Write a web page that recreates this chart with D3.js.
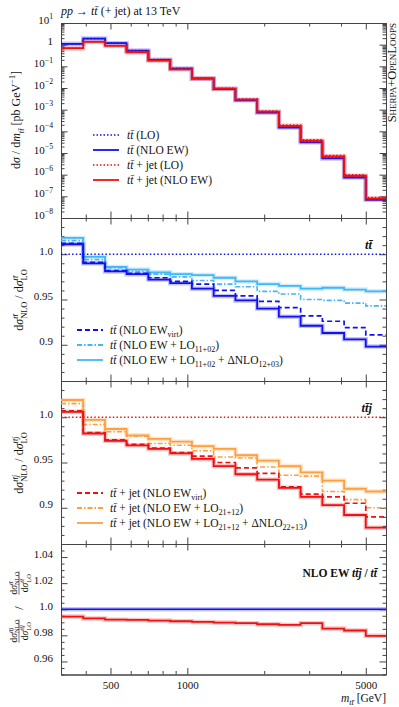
<!DOCTYPE html>
<html>
<head>
<meta charset="utf-8">
<script src="https://cdn.jsdelivr.net/npm/d3@7"></script>
<style>
  body { margin: 0; background: #fff; }
  svg { display: block; }
  text { font-family: "Liberation Serif", serif; fill: #111; }
</style>
</head>
<body>
<div id="chart"></div>
<script>
// m_tt bin edges [GeV]
const massEdges = [320, 391, 476, 578, 704, 857, 1042, 1268, 1543, 1877, 2283, 2778, 3380, 4112, 5000, 6000]

// dsigma/dm [pb/GeV]
const ttLO    = [1.078, 1.94, 1.193, 0.548, 0.206, 0.0816, 0.0281, 0.00933, 0.00285, 7.77e-4, 1.61e-4, 3.37e-5, 6.13e-6, 8.17e-7, 7.68e-8]
const ttNLO   = [1.09, 1.92, 1.17, 0.536, 0.20, 0.079, 0.027, 0.0089, 0.0027, 7.3e-4, 1.5e-4, 3.1e-5, 5.6e-6, 7.4e-7, 6.9e-8]
const ttjLO   = [0.686, 1.375, 0.903, 0.461, 0.192, 0.076, 0.0288, 0.00983, 0.0031, 8.7e-4, 1.95e-4, 4.06e-5, 7.76e-6, 9.98e-7, 9.0e-8]
const ttjNLO  = [0.69, 1.35, 0.88, 0.447, 0.185, 0.073, 0.0275, 0.0093, 0.0029, 8.1e-4, 1.8e-4, 3.7e-5, 7.0e-6, 8.9e-7, 7.9e-8]

// ratios to LO, tt
const ttRatioNLO  = [1.011, 0.990, 0.981, 0.978, 0.972, 0.968, 0.962, 0.954, 0.949, 0.940, 0.931, 0.921, 0.913, 0.906, 0.898]
const ttRatioVirt = [1.012, 0.991, 0.982, 0.979, 0.974, 0.970, 0.967, 0.960, 0.954, 0.948, 0.941, 0.932, 0.926, 0.919, 0.911]
const ttRatioLOmix = [1.015, 0.994, 0.985, 0.981, 0.978, 0.975, 0.971, 0.967, 0.964, 0.959, 0.956, 0.950, 0.949, 0.946, 0.943]
const ttRatioFull = [1.018, 0.997, 0.986, 0.983, 0.980, 0.978, 0.977, 0.974, 0.970, 0.967, 0.965, 0.962, 0.963, 0.961, 0.959]

// ratios to LO, tt+jet
const ttjRatioNLO  = [1.006, 0.982, 0.974, 0.969, 0.965, 0.960, 0.954, 0.946, 0.937, 0.931, 0.922, 0.912, 0.903, 0.892, 0.878]
const ttjRatioVirt = [1.007, 0.983, 0.975, 0.970, 0.966, 0.961, 0.957, 0.950, 0.944, 0.938, 0.923, 0.915, 0.912, 0.905, 0.890]
const ttjRatioLOmix = [1.015, 0.992, 0.984, 0.979, 0.971, 0.969, 0.963, 0.956, 0.955, 0.945, 0.936, 0.935, 0.918, 0.909, 0.900]
const ttjRatioFull = [1.019, 0.997, 0.987, 0.980, 0.976, 0.973, 0.968, 0.965, 0.958, 0.952, 0.946, 0.939, 0.930, 0.921, 0.918]

// NLO EW K-factor ratio, ttj / tt
const kRatio = [0.9944, 0.993, 0.992, 0.9918, 0.9913, 0.9908, 0.9903, 0.9898, 0.9893, 0.9885, 0.988, 0.9893, 0.9852, 0.9837, 0.9796]

const xMajor = [500, 1000, 5000]
const xMinor = [400, 600, 700, 800, 900, 2000, 3000, 4000]

const W = 399, H = 707
const L = 61, R = 386
const BLUE = "#1010f0", LBLUE = "#40b8f5", RED = "#ee1111", ORANGE = "#ffa040"

const svg = d3.select("#chart").append("svg").attr("width", W).attr("height", H)

const x = d3.scaleLog().domain([320, 6000]).range([L, R])
const y1 = d3.scaleLog().domain([1e-8, 10]).range([218, 23])
const y2 = d3.scaleLinear().domain([0.86, 1.04]).range([381, 218])
const y3 = d3.scaleLinear().domain([0.86, 1.04]).range([544, 381])
const y4 = d3.scaleLinear().domain([0.95, 1.05]).range([674.5, 544])

// rich text with italic / sub / sup pieces
function rich(text, parts, fs) {
  let cur = 0, prev = null, carry = 0
  parts.forEach(p => {
    const off = p.sup ? -0.38 * fs : p.sub ? 0.3 * fs : 0
    const ts = text.append("tspan").text(p.t).attr("dy", off - cur)
    cur = off
    if (p.sup || p.sub) ts.attr("font-size", fs * 0.7)
    if (p.i) ts.attr("font-style", "italic")
    if (p.b) ts.attr("font-weight", "bold")
    let dx = carry
    carry = 0
    if (p.back && prev) {
      const pw = prev.node().getComputedTextLength()
      dx -= pw
      const cw = ts.node().getComputedTextLength()
      if (pw > cw) carry = pw - cw
    }
    if (dx) ts.attr("dx", dx)
    prev = ts
  })
  return text
}

const TT = "tt\u0304"

function stepLine(y) {
  return d3.line()
    .x(d => x(d[0]))
    .y(d => y(d[1]))
    .curve(d3.curveStepAfter)
}

function drawHist(g, y, vals, color, dash, width, halo) {
  const pts = vals.map((v, i) => [massEdges[i], v])
  pts.push([massEdges[massEdges.length - 1], vals[vals.length - 1]])
  if (halo) {
    g.append("path").datum(pts)
      .attr("d", stepLine(y)).attr("fill", "none")
      .attr("stroke", color).attr("stroke-opacity", 0.25).attr("stroke-width", 4.5)
  }
  g.append("path").datum(pts)
    .attr("d", stepLine(y)).attr("fill", "none")
    .attr("stroke", color).attr("stroke-width", width || 1.7)
    .attr("stroke-dasharray", dash || null)
}

function flatLine(g, y, v, color, dash, halo) {
  const pts = [[massEdges[0], v], [massEdges[massEdges.length - 1], v]]
  if (halo) {
    g.append("path").datum(pts).attr("d", stepLine(y)).attr("fill", "none")
      .attr("stroke", color).attr("stroke-opacity", 0.25).attr("stroke-width", 4.5)
  }
  g.append("path").datum(pts).attr("d", stepLine(y)).attr("fill", "none")
    .attr("stroke", color).attr("stroke-width", dash ? 1.4 : 1.7)
    .attr("stroke-dasharray", dash || null)
}

function styleAxis(sel) {
  sel.select(".domain").attr("stroke", "#444")
  sel.selectAll(".tick line").attr("stroke", "#444")
  sel.selectAll(".tick text").attr("font-family", "Liberation Serif, serif").attr("font-size", 11).attr("fill", "#111")
}

function dropEmpty(sel) {
  sel.selectAll(".tick text").filter(function() { return !this.textContent }).remove()
}

function frame(y, top, bottom, yMajor, yMinor, yFmt, xLabels) {
  const g = svg.append("g")
  // x ticks
  g.append("g").attr("transform", `translate(0,${top})`)
    .call(d3.axisTop(x).tickValues(xMinor).tickSize(-3.5).tickSizeOuter(0).tickFormat(""))
    .call(styleAxis)
  g.append("g").attr("transform", `translate(0,${top})`)
    .call(d3.axisTop(x).tickValues(xMajor).tickSize(-6.5).tickSizeOuter(0).tickFormat(""))
    .call(styleAxis)
  g.append("g").attr("transform", `translate(0,${bottom})`)
    .call(d3.axisBottom(x).tickValues(xMinor).tickSize(-3.5).tickSizeOuter(0).tickFormat(""))
    .call(styleAxis)
  g.append("g").attr("transform", `translate(0,${bottom})`)
    .call(d3.axisBottom(x).tickValues(xMajor).tickSize(-6.5).tickSizeOuter(0).tickPadding(7)
      .tickFormat(xLabels ? d3.format("d") : ""))
    .call(styleAxis)
  // y ticks
  g.append("g").attr("transform", `translate(${L},0)`)
    .call(d3.axisLeft(y).tickValues(yMinor).tickSize(-3.5).tickSizeOuter(0).tickFormat(""))
    .call(styleAxis)
  const yl = g.append("g").attr("transform", `translate(${L},0)`)
    .call(d3.axisLeft(y).tickValues(yMajor).tickSize(-6.5).tickSizeOuter(0).tickPadding(8).tickFormat(""))
    .call(styleAxis)
  yl.selectAll(".tick text").each(function(d) { rich(d3.select(this), yFmt(d), 11) })
  g.append("g").attr("transform", `translate(${R},0)`)
    .call(d3.axisRight(y).tickValues(yMinor).tickSize(-3.5).tickSizeOuter(0).tickFormat(""))
    .call(styleAxis)
  g.append("g").attr("transform", `translate(${R},0)`)
    .call(d3.axisRight(y).tickValues(yMajor).tickSize(-6.5).tickSizeOuter(0).tickFormat(""))
    .call(styleAxis)
  dropEmpty(g)
  return g
}

// ---- panel 1: distributions
const decades = d3.range(-8, 2).map(e => Math.pow(10, e))
const logMinor = []
decades.slice(0, -1).forEach(d => { for (let k = 2; k < 10; k++) logMinor.push(d * k) })
frame(y1, 23, 218, decades, logMinor, d => {
  const e = Math.round(Math.log10(d))
  if (e === 0) return [{ t: "1" }]
  return [{ t: "10" }, { t: e < 0 ? "\u2212" + (-e) : String(e), sup: 1 }]
}, false)

const p1 = svg.append("g")
drawHist(p1, y1, ttLO, BLUE, "1.5,2", 1.4)
drawHist(p1, y1, ttjLO, RED, "1.5,2", 1.4)
drawHist(p1, y1, ttNLO, BLUE, null, 1.8, true)
drawHist(p1, y1, ttjNLO, RED, null, 1.8, true)

// ---- panel 2: tt ratios
const rMajor = [0.9, 0.95, 1.0]
const rMinor = d3.range(86, 105).map(v => v / 100).filter(v => !rMajor.some(m => Math.abs(m - v) < 1e-6))
const rFmt = d => [{ t: d === 1 ? "1.0" : String(d) }]
frame(y2, 218, 381, rMajor, rMinor, rFmt, false)
const p2 = svg.append("g")
flatLine(p2, y2, 1.0, BLUE, "1.5,2.2")
drawHist(p2, y2, ttRatioFull, LBLUE, null, 1.8, true)
drawHist(p2, y2, ttRatioLOmix, LBLUE, "5,2,1.5,2", 1.6)
drawHist(p2, y2, ttRatioVirt, BLUE, "5,3", 1.7)
drawHist(p2, y2, ttRatioNLO, BLUE, null, 1.8, true)

// ---- panel 3: tt+jet ratios
frame(y3, 381, 544, rMajor, rMinor, rFmt, false)
const p3 = svg.append("g")
flatLine(p3, y3, 1.0, RED, "1.5,2.2")
drawHist(p3, y3, ttjRatioFull, ORANGE, null, 1.8, true)
drawHist(p3, y3, ttjRatioLOmix, ORANGE, "5,2,1.5,2", 1.6)
drawHist(p3, y3, ttjRatioVirt, RED, "5,3", 1.7)
drawHist(p3, y3, ttjRatioNLO, RED, null, 1.8, true)

// ---- panel 4: K-factor ratio
const kMajor = [0.96, 0.98, 1.0, 1.02, 1.04]
const kMinor = d3.range(190, 211).map(v => v / 200).filter(v => !kMajor.some(m => Math.abs(m - v) < 1e-6))
frame(y4, 544, 674.5, kMajor, kMinor, d => [{ t: d === 1 ? "1.0" : d.toFixed(2) }], true)
const p4 = svg.append("g")
flatLine(p4, y4, 1.0, BLUE, null, true)
drawHist(p4, y4, kRatio, RED, null, 1.8, true)

// ---- texts
rich(svg.append("text").attr("x", L).attr("y", 15).attr("font-size", 12),
  [{ t: "pp", i: 1 }, { t: " \u2192 " }, { t: TT, i: 1 }, { t: " (+ jet) at 13 TeV" }], 12)

rich(svg.append("text").attr("text-anchor", "middle")
  .attr("transform", `translate(20,120) rotate(-90)`).attr("font-size", 12),
  [{ t: "d" }, { t: "\u03c3", i: 1 }, { t: " / d" }, { t: "m", i: 1 }, { t: TT, i: 1, sub: 1 },
   { t: " [pb GeV" }, { t: "\u22121", sup: 1 }, { t: "]" }], 12)

svg.append("text").attr("text-anchor", "end")
  .attr("transform", `translate(396,23) rotate(-90)`)
  .attr("font-size", 12.5).style("font-variant", "small-caps")
  .text("Sherpa+OpenLoops")

function ratioLabel(cy, sup) {
  rich(svg.append("text").attr("text-anchor", "middle")
    .attr("transform", `translate(23,${cy}) rotate(-90)`).attr("font-size", 12),
    [{ t: "d" }, { t: "\u03c3", i: 1 }, { t: sup, i: 1, sup: 1 }, { t: "NLO", sub: 1, back: 1 },
     { t: " / d" }, { t: "\u03c3", i: 1 }, { t: sup, i: 1, sup: 1 }, { t: "LO", sub: 1, back: 1 }], 12)
}
ratioLabel(300, TT)
ratioLabel(463, TT + "j")

// panel 4 double fraction label
const fl = svg.append("g").attr("transform", "translate(19,609) rotate(-90)")
function fraction(cx, sup) {
  const fs = 9.5
  const num = rich(fl.append("text").attr("x", cx).attr("y", -2.5).attr("text-anchor", "middle").attr("font-size", fs),
    [{ t: "d" }, { t: "\u03c3", i: 1 }, { t: sup, i: 1, sup: 1 }, { t: "NLO", sub: 1, back: 1 }], fs)
  const den = rich(fl.append("text").attr("x", cx).attr("y", 9).attr("text-anchor", "middle").attr("font-size", fs),
    [{ t: "d" }, { t: "\u03c3", i: 1 }, { t: sup, i: 1, sup: 1 }, { t: "LO", sub: 1, back: 1 }], fs)
  const w = Math.max(num.node().getBBox().width, den.node().getBBox().width)
  fl.append("line").attr("x1", cx - w / 2).attr("x2", cx + w / 2).attr("y1", 0).attr("y2", 0)
    .attr("stroke", "#111").attr("stroke-width", 0.6)
}
fraction(-22, TT + "j")
fraction(26, TT)
fl.append("text").attr("x", 1).attr("y", 4).attr("text-anchor", "middle").attr("font-size", 12.5).text("/")

rich(svg.append("text").attr("x", 372).attr("y", 249).attr("text-anchor", "end").attr("font-size", 12.5),
  [{ t: TT, i: 1, b: 1 }], 12.5)
rich(svg.append("text").attr("x", 372).attr("y", 412).attr("text-anchor", "end").attr("font-size", 12.5),
  [{ t: TT + "j", i: 1, b: 1 }], 12.5)
rich(svg.append("text").attr("x", 377).attr("y", 577).attr("text-anchor", "end").attr("font-size", 11.5),
  [{ t: "NLO EW ", b: 1 }, { t: TT + "j", i: 1, b: 1 }, { t: " / ", b: 1 }, { t: TT, i: 1, b: 1 }], 11.5)

rich(svg.append("text").attr("x", R).attr("y", 702).attr("text-anchor", "end").attr("font-size", 11.5),
  [{ t: "m", i: 1 }, { t: TT, i: 1, sub: 1 }, { t: " [GeV]" }], 11.5)

// ---- legends
function legend(x0, xText, y0, rows) {
  rows.forEach((r, i) => {
    const yy = y0 + i * 15
    svg.append("line").attr("x1", x0).attr("x2", x0 + 26).attr("y1", yy).attr("y2", yy)
      .attr("stroke", r.color).attr("stroke-width", r.dash === "1.5,2" ? 1.5 : 1.8)
      .attr("stroke-dasharray", r.dash || null)
    rich(svg.append("text").attr("x", xText).attr("y", yy + 4).attr("font-size", 11.5), r.parts, 11.5)
  })
}
legend(93, 127, 135, [
  { color: BLUE, dash: "1.5,2", parts: [{ t: TT, i: 1 }, { t: " (LO)" }] },
  { color: BLUE, parts: [{ t: TT, i: 1 }, { t: " (NLO EW)" }] },
  { color: RED, dash: "1.5,2", parts: [{ t: TT, i: 1 }, { t: " + jet (LO)" }] },
  { color: RED, parts: [{ t: TT, i: 1 }, { t: " + jet (NLO EW)" }] }
])
legend(77, 110, 330, [
  { color: BLUE, dash: "5,3", parts: [{ t: TT, i: 1 }, { t: " (NLO EW" }, { t: "virt", sub: 1 }, { t: ")" }] },
  { color: LBLUE, dash: "5,2,1.5,2", parts: [{ t: TT, i: 1 }, { t: " (NLO EW + LO" }, { t: "11+02", sub: 1 }, { t: ")" }] },
  { color: LBLUE, parts: [{ t: TT, i: 1 }, { t: " (NLO EW + LO" }, { t: "11+02", sub: 1 }, { t: " + \u0394NLO" }, { t: "12+03", sub: 1 }, { t: ")" }] }
])
legend(77, 110, 493, [
  { color: RED, dash: "5,3", parts: [{ t: TT, i: 1 }, { t: " + jet (NLO EW" }, { t: "virt", sub: 1 }, { t: ")" }] },
  { color: ORANGE, dash: "5,2,1.5,2", parts: [{ t: TT, i: 1 }, { t: " + jet (NLO EW + LO" }, { t: "21+12", sub: 1 }, { t: ")" }] },
  { color: ORANGE, parts: [{ t: TT, i: 1 }, { t: " + jet (NLO EW + LO" }, { t: "21+12", sub: 1 }, { t: " + \u0394NLO" }, { t: "22+13", sub: 1 }, { t: ")" }] }
])
</script>
</body>
</html>
